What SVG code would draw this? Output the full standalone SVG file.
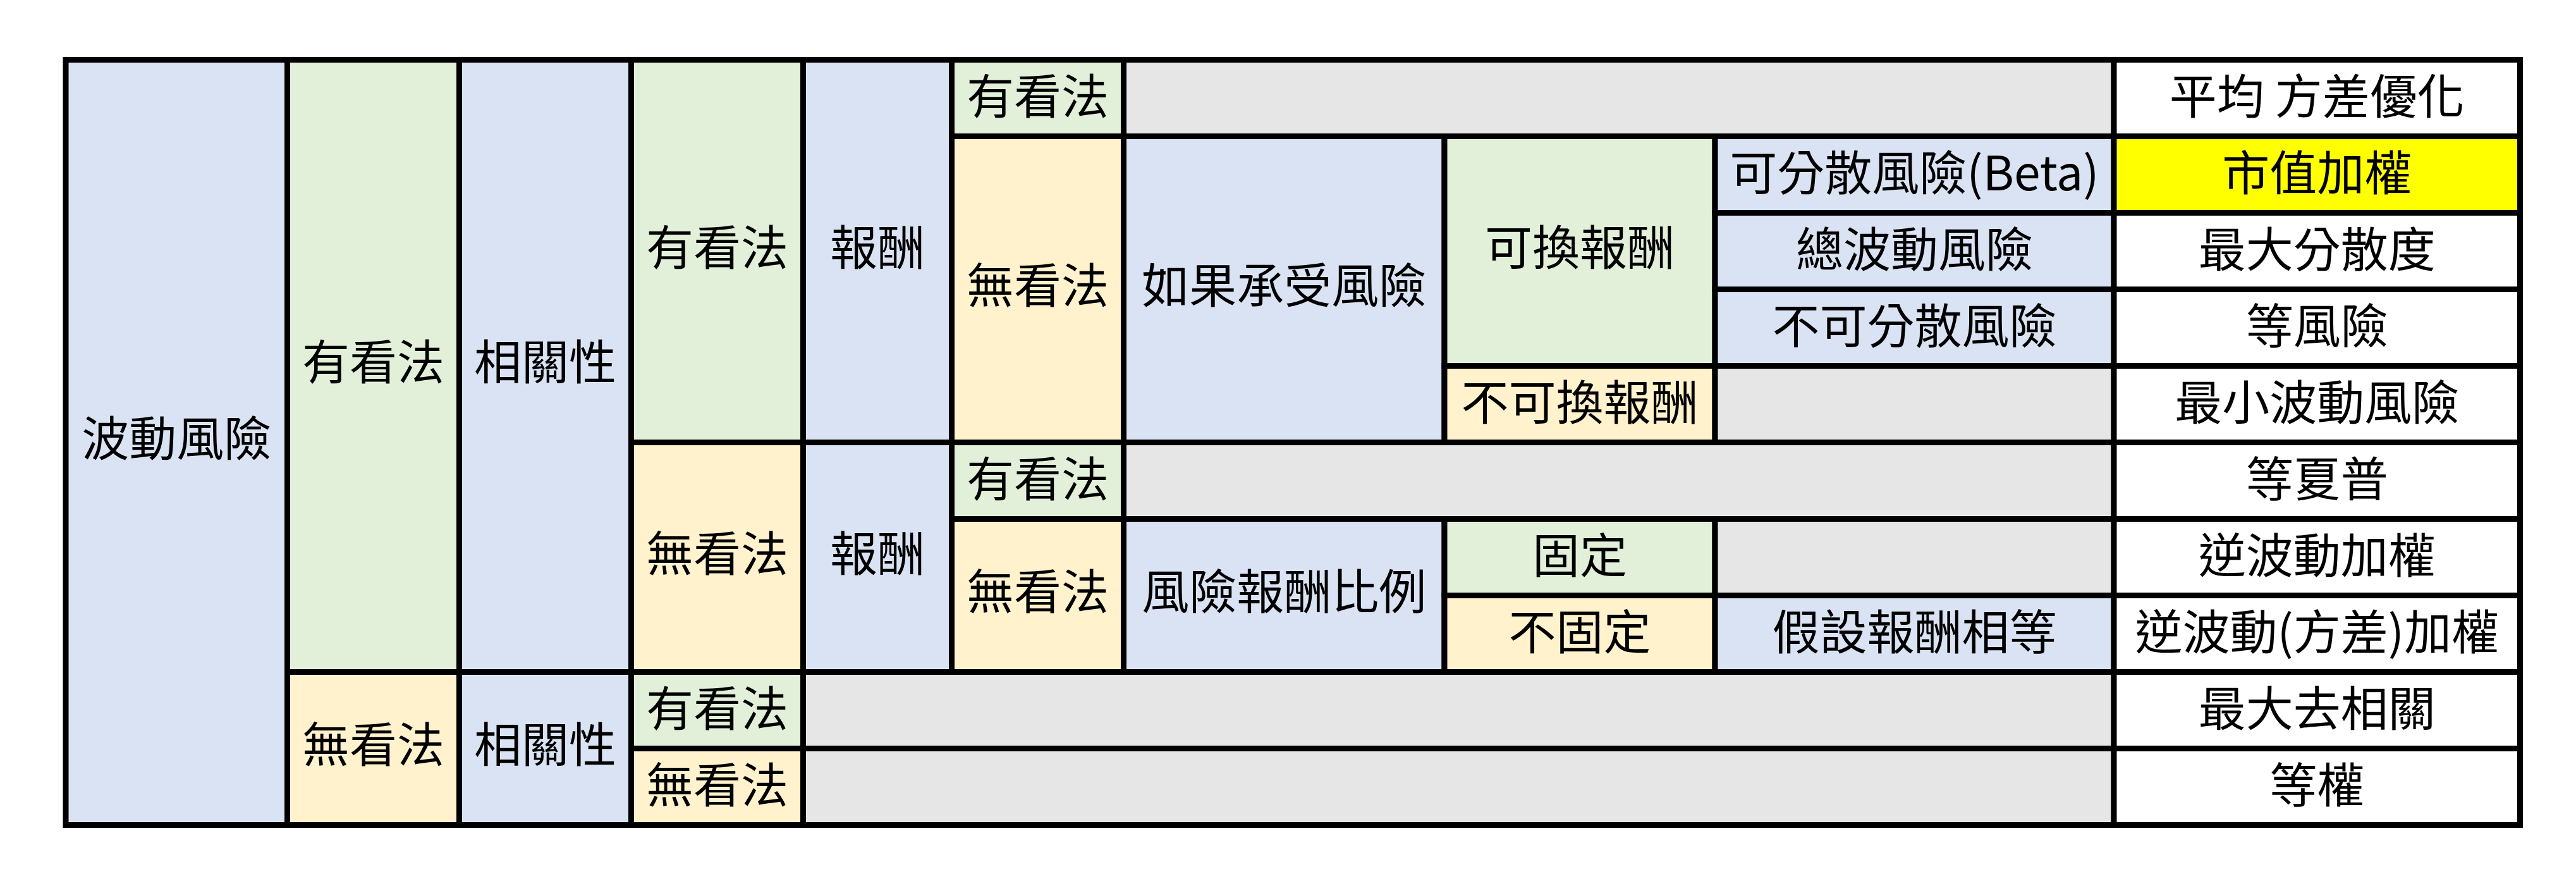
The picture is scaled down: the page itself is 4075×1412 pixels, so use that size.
<svg xmlns="http://www.w3.org/2000/svg" width="4075" height="1412" viewBox="0 0 4075 1412">
<style>
rect{stroke:#000;stroke-width:9}
.b{fill:#DAE3F3}
.g{fill:#E2F0D9}
.y{fill:#FFF2CC}
.k{fill:#E6E6E6}
.w{fill:#FFFFFF}
.h{fill:#FFFF00}
text{font-family:"Noto Sans CJK TC","Noto Sans CJK SC",sans-serif;font-size:75px;text-anchor:middle;fill:#000}
</style>
<rect x="0" y="0" width="4075" height="1412" style="fill:#fff;stroke:none"/>
<g id="n-volrisk"><rect class="b" x="104" y="94.5" width="350.5" height="1210"/><text x="279.25" y="721">波動風險</text></g>
<g id="n-view-a"><rect class="g" x="454.5" y="94.5" width="272" height="968"/><text x="590.5" y="600">有看法</text></g>
<g id="n-noview-a"><rect class="y" x="454.5" y="1062.5" width="272" height="242"/><text x="590.5" y="1205">無看法</text></g>
<g id="n-corr-a"><rect class="b" x="726.5" y="94.5" width="272" height="968"/><text x="862.5" y="600">相關性</text></g>
<g id="n-corr-b"><rect class="b" x="726.5" y="1062.5" width="272" height="242"/><text x="862.5" y="1205">相關性</text></g>
<g id="n-view-b"><rect class="g" x="998.5" y="94.5" width="272" height="605"/><text x="1134.5" y="418.5">有看法</text></g>
<g id="n-noview-b"><rect class="y" x="998.5" y="699.5" width="272" height="363"/><text x="1134.5" y="902.5">無看法</text></g>
<g id="n-ret-a"><rect class="b" x="1270.5" y="94.5" width="235" height="605"/><text x="1388" y="418.5">報酬</text></g>
<g id="n-ret-b"><rect class="b" x="1270.5" y="699.5" width="235" height="363"/><text x="1388" y="902.5">報酬</text></g>
<g id="n-view-c"><rect class="g" x="1505.5" y="94.5" width="272" height="121"/><text x="1641.5" y="180">有看法</text></g>
<g id="n-empty-1"><rect class="k" x="1777.5" y="94.5" width="1566.5" height="121"/></g>
<g id="n-noview-c"><rect class="y" x="1505.5" y="215.5" width="272" height="484"/><text x="1641.5" y="479">無看法</text></g>
<g id="n-ifrisk"><rect class="b" x="1777.5" y="215.5" width="507.5" height="484"/><text x="2031.25" y="479">如果承受風險</text></g>
<g id="n-swap"><rect class="g" x="2285" y="215.5" width="428" height="363"/><text x="2499" y="418.5">可換報酬</text></g>
<g id="n-noswap"><rect class="y" x="2285" y="578.5" width="428" height="121"/><text x="2499" y="664">不可換報酬</text></g>
<g id="n-beta"><rect class="b" x="2713" y="215.5" width="631" height="121"/><text x="3028.5" y="301">可分散風險(Beta)</text></g>
<g id="n-totvol"><rect class="b" x="2713" y="336.5" width="631" height="121"/><text x="3028.5" y="422">總波動風險</text></g>
<g id="n-nondiv"><rect class="b" x="2713" y="457.5" width="631" height="121"/><text x="3028.5" y="543">不可分散風險</text></g>
<g id="n-empty-2"><rect class="k" x="2713" y="578.5" width="631" height="121"/></g>
<g id="n-view-d"><rect class="g" x="1505.5" y="699.5" width="272" height="121"/><text x="1641.5" y="785">有看法</text></g>
<g id="n-empty-3"><rect class="k" x="1777.5" y="699.5" width="1566.5" height="121"/></g>
<g id="n-noview-d"><rect class="y" x="1505.5" y="820.5" width="272" height="242"/><text x="1641.5" y="963">無看法</text></g>
<g id="n-rr"><rect class="b" x="1777.5" y="820.5" width="507.5" height="242"/><text x="2031.25" y="963">風險報酬比例</text></g>
<g id="n-fixed"><rect class="g" x="2285" y="820.5" width="428" height="121"/><text x="2499" y="906">固定</text></g>
<g id="n-empty-4"><rect class="k" x="2713" y="820.5" width="631" height="121"/></g>
<g id="n-unfixed"><rect class="y" x="2285" y="941.5" width="428" height="121"/><text x="2499" y="1027">不固定</text></g>
<g id="n-eqret"><rect class="b" x="2713" y="941.5" width="631" height="121"/><text x="3028.5" y="1027">假設報酬相等</text></g>
<g id="n-view-e"><rect class="g" x="998.5" y="1062.5" width="272" height="121"/><text x="1134.5" y="1148">有看法</text></g>
<g id="n-empty-5"><rect class="k" x="1270.5" y="1062.5" width="2073.5" height="121"/></g>
<g id="n-noview-e"><rect class="y" x="998.5" y="1183.5" width="272" height="121"/><text x="1134.5" y="1269">無看法</text></g>
<g id="n-empty-6"><rect class="k" x="1270.5" y="1183.5" width="2073.5" height="121"/></g>
<g id="n-r0"><rect class="w" x="3344" y="94.5" width="642.5" height="121"/><text x="3665.25" y="180">平均 方差優化</text></g>
<g id="n-r1"><rect class="h" x="3344" y="215.5" width="642.5" height="121"/><text x="3665.25" y="301">市值加權</text></g>
<g id="n-r2"><rect class="w" x="3344" y="336.5" width="642.5" height="121"/><text x="3665.25" y="422">最大分散度</text></g>
<g id="n-r3"><rect class="w" x="3344" y="457.5" width="642.5" height="121"/><text x="3665.25" y="543">等風險</text></g>
<g id="n-r4"><rect class="w" x="3344" y="578.5" width="642.5" height="121"/><text x="3665.25" y="664">最小波動風險</text></g>
<g id="n-r5"><rect class="w" x="3344" y="699.5" width="642.5" height="121"/><text x="3665.25" y="785">等夏普</text></g>
<g id="n-r6"><rect class="w" x="3344" y="820.5" width="642.5" height="121"/><text x="3665.25" y="906">逆波動加權</text></g>
<g id="n-r7"><rect class="w" x="3344" y="941.5" width="642.5" height="121"/><text x="3665.25" y="1027">逆波動(方差)加權</text></g>
<g id="n-r8"><rect class="w" x="3344" y="1062.5" width="642.5" height="121"/><text x="3665.25" y="1148">最大去相關</text></g>
<g id="n-r9"><rect class="w" x="3344" y="1183.5" width="642.5" height="121"/><text x="3665.25" y="1269">等權</text></g>
</svg>
